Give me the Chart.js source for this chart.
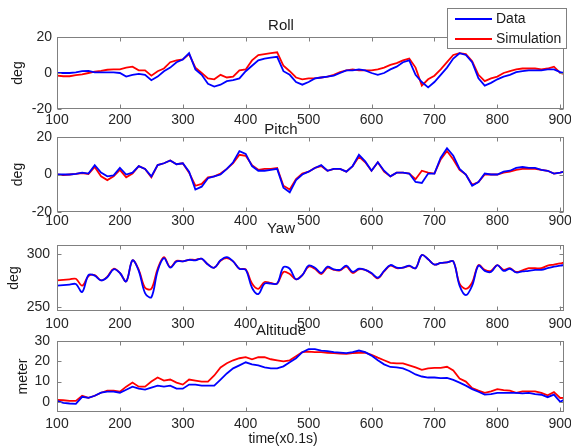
<!DOCTYPE html>
<html>
<head>
<meta charset="utf-8">
<script src="https://cdn.jsdelivr.net/npm/chart.js@4.4.1/dist/chart.umd.min.js"></script>
<style>
  body { margin: 0; background: #fff; }
  #wrap { position: relative; width: 571px; height: 446px; }
  #wrap canvas { position: absolute; left: 0; top: 0; }
</style>
</head>
<body>
<div id="wrap">
  <canvas id="roll" width="571" height="446"></canvas>
  <canvas id="pitch" width="571" height="446"></canvas>
  <canvas id="yaw" width="571" height="446"></canvas>
  <canvas id="altitude" width="571" height="446"></canvas>
</div>
<script>
// time axis, x0.1s
const time = [100, 110, 120, 130, 140, 150, 160, 170, 180, 190,
              200, 210, 220, 230, 240, 250, 260, 270, 280, 290,
              300, 310, 320, 330, 340, 350, 360, 370, 380, 390,
              400, 410, 420, 430, 440, 450, 460, 470, 480, 490,
              500, 510, 520, 530, 540, 550, 560, 570, 580, 590,
              600, 610, 620, 630, 640, 650, 660, 670, 680, 690,
              700, 710, 720, 730, 740, 750, 760, 770, 780, 790,
              800, 810, 820, 830, 840, 850, 860, 870, 880, 890,
              900, 906];

const xTicks = [100, 200, 300, 400, 500, 600, 700, 800, 900];
const angleTicks = [-20, 0, 20];
const yawTicks = [250, 300];
const altTicks = [0, 10, 20, 30];

const rollData = [0, 0, 0, 0.3, 1, 1.2, 0.3, 0.3, 0.3, 0.3,
                  0, -2, -1, -0.5, -1, -4, -2, 1, 3, 6,
                  7.5, 11, 2, -1, -6, -7.5, -6.5, -4.5, -4, -3,
                  1, 4, 7, 8, 8.5, 9, 1, -1, -5, -6.5,
                  -5, -3, -2.5, -2, -1.5, 0, 1.5, 1.5, 2, 1.5,
                  0, -1, 0, 2, 3.5, 6, 7, -1, -5, -8,
                  -5, -1, 3, 8, 11, 10, 6, -3, -7, -5.5,
                  -3.5, -2, -1, 0.5, 1, 1.5, 1.5, 1.5, 2, 2,
                  0.5, 0];
const rollSim = [-1.5, -1.8, -1.8, -1.2, -0.8, 0, 0.8, 1.2, 1.8, 2,
                 2, 3, 3.5, 1.5, 1.5, -1.5, 1, 2.5, 6, 7,
                 7.5, 10.5, 3, 0, -3, -3.5, -1, -2.5, -2, 1.5,
                 2, 7, 10, 10.5, 11, 11.5, 4, 1, -2.5, -3.5,
                 -3, -3, -2.5, -2, -1, 0.5, 1.5, 2, 1.5, 1.5,
                 1.5, 2, 3, 4.5, 5.5, 7, 8, 3, -7, -3.5,
                 -1.5, 2, 6, 10, 11, 10.5, 6.5, -1, -4.5, -3,
                 -2, 0, 1, 2, 2.5, 2.5, 2.5, 2, 2.5, 3.5,
                 0, -0.5];

const pitchData = [0, 0, 0, 0.3, 1, 0.5, 5, 1, -1, -0.5,
                   3.5, 0, 1, 4.5, 3, -1, 5, 6, 7.5, 5.5,
                   6, 1.5, -8, -6.5, -2, -1, 0, 3, 6.5, 12.5,
                   11, 4.5, 2, 2, 2.5, 3, -7, -9.5, -3, 0,
                   1.5, 3.5, 5, 2, 3, 3, 1.5, 4.5, 10.5, 7,
                   2, 6.5, 2, -1, 1, 1, 0.5, -4, -4.5, 0.5,
                   0.5, 9, 14, 10, 3, 0, -6, -4, 0.5, 0,
                   0, 1.5, 2, 3.5, 4, 3.5, 3.5, 2.5, 2, 0.5,
                   1, 1.5];
const pitchSim = [0, -0.3, 0, 0.3, 0.8, 0.3, 4, -1, -3, -1,
                  2.5, -1.5, 0.5, 4.5, 3, -1.5, 5, 6, 7.5, 5.5,
                  6, 1, -6, -5, -1.5, -1, 0.5, 3, 6, 10.5,
                  10, 5, 2.5, 3, 3, 3.5, -6, -8, -2.5, 0.5,
                  1.5, 3.5, 4.5, 2, 3, 3, 1.5, 4.5, 9.5, 6.5,
                  2, 6.5, 1.5, -1, 1, 1, 0.5, -2.5, 2, 1,
                  0.5, 8, 12.5, 8, 2.5, 0, -5.5, -4, 0, 0,
                  0, 1, 1.5, 2.5, 3, 3, 3, 2.5, 2, 0.5,
                  1, 1.5];

const yawData = [270, 270.5, 271, 271.5, 264, 280, 279.5, 275, 278, 285.5,
                 282, 274, 294, 284, 263, 259, 284, 296, 287, 293,
                 293, 294.5, 294, 295.5, 290, 287, 294, 297, 293, 286,
                 285, 268, 262, 272, 272, 272, 287.5, 286, 276, 280,
                 289, 287, 282, 288, 285.5, 285, 289, 283, 286, 285,
                 282, 277.5, 284, 289.5, 287, 287, 289, 286.5, 299, 295,
                 290, 291.5, 292, 293, 270, 261, 270, 289, 284, 283,
                 289.5, 284, 286, 282.5, 283.5, 284, 285, 285, 286.5, 288,
                 289, 289.5];
const yawSim = [275, 275.5, 276, 276.5, 270, 279, 280, 275, 278.5, 286,
                282, 274, 294, 285, 268, 267, 286, 297, 287.5, 293.5,
                293, 294.5, 294.5, 295.5, 290, 287, 293.5, 296, 293, 286,
                285.5, 272, 267, 273.5, 272.5, 272, 283, 281, 276, 280,
                288, 286, 281, 287, 285, 284.5, 288, 282, 285.5, 285,
                281.5, 277, 283.5, 289, 286.5, 287, 288.5, 286.5, 299, 295,
                290, 291.5, 292, 293, 272, 267, 273, 289.5, 285, 284,
                289.5, 285, 286.5, 283, 284.5, 286.5, 286.5, 286.5, 289, 290,
                291, 292];

const altData = [0.5, -0.5, -0.8, -1, 2.5, 2, 3, 4.5, 5, 5,
                 4.5, 6, 7.5, 6.5, 6, 7, 8, 7.5, 8, 6.5,
                 6.5, 8.5, 8.5, 8, 8, 8, 11, 14, 16.5, 18,
                 19.5, 18.5, 18, 17, 16.5, 16.5, 17.5, 19.5, 21.5, 24.5,
                 26, 26, 25.3, 25, 24.5, 24.3, 24, 24.5, 25.3, 24.5,
                 22.8, 20.5, 18.5, 17.2, 17, 16.5, 15.2, 13.5, 12.5, 12,
                 12, 11.7, 11.8, 10.8, 9.5, 8, 6.3, 5, 3.6, 3.8,
                 4.4, 4.4, 4.4, 4.4, 4.2, 4.4, 3.8, 3.5, 2.3, 3.6,
                 0, 1];
const altSim = [1, 0.8, 0.5, 0.5, 3, 2, 3, 4.5, 5.5, 5.5,
                5, 7.5, 9.5, 7.5, 7.5, 10, 12, 10.5, 11, 9.5,
                8.5, 11, 10.5, 10, 10, 13, 17, 19, 20.5, 21.5,
                22, 21, 22, 22, 21, 20.5, 20, 20.5, 22.5, 24.5,
                24.8, 24.5, 24.5, 24.2, 24, 23.8, 23.7, 24, 24.2, 24.2,
                23.2, 21.8, 20.5, 19.2, 19, 19, 18, 17, 15.8, 16.5,
                16.8, 16.8, 17.3, 15.5, 11.5, 10, 6.8, 5.5, 4.4, 5.2,
                6.3, 5.8, 5.5, 4.4, 5.2, 5.2, 5.2, 4.4, 3.2, 4.8,
                1.9, 2];

const seriesNames = ['Data', 'Simulation'];
const seriesColors = ['rgb(0, 0, 255)', 'rgb(255, 0, 0)'];

Chart.defaults.font.family = '"Liberation Sans", Arial, sans-serif';
Chart.defaults.font.size = 14;
Chart.defaults.color = '#262626';

// draws the matlab style box, inward ticks, titles, labels and legend
const matlabFrame = {
    id: 'matlabFrame',
    afterDatasetsDraw(chart, args, opts) {
        const ctx = chart.ctx;
        const a = chart.chartArea;
        const xs = chart.scales.x, ys = chart.scales.y;
        ctx.save();
        ctx.strokeStyle = '#808080';
        ctx.lineWidth = 1;
        const L = Math.round(a.left) + 0.5, R = Math.round(a.right) - 0.5;
        const T = Math.round(a.top) + 0.5, B = Math.round(a.bottom) - 0.5;
        ctx.strokeRect(L, T, R - L, B - T);
        ctx.beginPath();
        xs.ticks.forEach(t => {
            const px = Math.round(xs.getPixelForValue(t.value)) + 0.5;
            ctx.moveTo(px, B); ctx.lineTo(px, B - 4);
            ctx.moveTo(px, T); ctx.lineTo(px, T + 4);
        });
        ys.ticks.forEach(t => {
            const py = Math.round(ys.getPixelForValue(t.value)) + 0.5;
            ctx.moveTo(L, py); ctx.lineTo(L + 4, py);
            ctx.moveTo(R, py); ctx.lineTo(R - 4, py);
        });
        ctx.stroke();

        ctx.fillStyle = '#1a1a1a';
        ctx.textAlign = 'center';
        ctx.textBaseline = 'middle';
        ctx.font = '15px "Liberation Sans", Arial, sans-serif';
        ctx.fillText(opts.title, 281, opts.titleY);

        ctx.font = '14px "Liberation Sans", Arial, sans-serif';
        ctx.save();
        ctx.translate(opts.unitX, (a.top + a.bottom) / 2);
        ctx.rotate(-Math.PI / 2);
        ctx.fillText(opts.unit, 0, 0);
        ctx.restore();

        if (opts.xlabel) {
            ctx.fillText(opts.xlabel, 283, 439);
        }

        if (opts.legend) {
            ctx.fillStyle = '#fff';
            ctx.fillRect(447, 8, 120, 41);
            ctx.strokeStyle = '#808080';
            ctx.strokeRect(447.5, 8.5, 119, 40);
            chart.data.datasets.forEach((ds, i) => {
                const y = 19 + i * 20;
                ctx.strokeStyle = ds.borderColor;
                ctx.lineWidth = 2;
                ctx.beginPath();
                ctx.moveTo(455, y); ctx.lineTo(492, y);
                ctx.stroke();
                ctx.fillStyle = '#1a1a1a';
                ctx.textAlign = 'left';
                ctx.fillText(ds.label, 496, y);
            });
        }
        ctx.restore();
    }
};

function makePanel(p) {
    const xAxisH = 24;
    new Chart(document.getElementById(p.id), {
        type: 'line',
        data: {
            datasets: [p.data, p.sim].map((vals, i) => ({
                label: seriesNames[i],
                data: time.map((t, k) => ({ x: t, y: vals[k] })),
                borderColor: seriesColors[i],
                borderWidth: 1.8,
                pointRadius: 0,
                tension: p.tension || 0,
                fill: false
            }))
        },
        options: {
            responsive: false,
            animation: false,
            events: [],
            layout: {
                padding: { left: 0, right: 7, top: p.top, bottom: 446 - p.bottom - xAxisH }
            },
            plugins: {
                legend: { display: false },
                tooltip: { enabled: false },
                matlabFrame: p.frame
            },
            scales: {
                x: {
                    type: 'linear',
                    min: 100,
                    max: 906,
                    grid: { display: false, drawTicks: false },
                    border: { display: false },
                    ticks: { padding: p.xPad, maxRotation: 0, autoSkip: false },
                    afterBuildTicks: s => { s.ticks = xTicks.map(v => ({ value: v })); },
                    afterFit: s => { s.height = xAxisH; s.paddingLeft = 0; s.paddingRight = 0; }
                },
                y: {
                    min: p.yMin,
                    max: p.yMax,
                    grid: { display: false, drawTicks: false },
                    border: { display: false },
                    ticks: { padding: p.yPad },
                    afterBuildTicks: s => { s.ticks = p.yTicks.map(v => ({ value: v })); },
                    afterFit: s => { s.width = 57; }
                }
            }
        },
        plugins: [matlabFrame]
    });
}

makePanel({ id: 'roll', data: rollData, sim: rollSim, yMin: -20, yMax: 20, yTicks: angleTicks,
    top: 37, bottom: 109, xPad: 3, yPad: 5,
    frame: { title: 'Roll', titleY: 26, unit: 'deg', unitX: 18, legend: true } });
makePanel({ id: 'pitch', data: pitchData, sim: pitchSim, yMin: -20, yMax: 20, yTicks: angleTicks,
    top: 137, bottom: 212, xPad: 1, yPad: 5,
    frame: { title: 'Pitch', titleY: 130, unit: 'deg', unitX: 18 } });
// yaw is a smooth signal in the reference, so round the corners a bit
makePanel({ id: 'yaw', data: yawData, sim: yawSim, yMin: 246, yMax: 308.5, yTicks: yawTicks,
    top: 245, bottom: 311, xPad: 5, yPad: 7, tension: 0.35,
    frame: { title: 'Yaw', titleY: 229, unit: 'deg', unitX: 14 } });
makePanel({ id: 'altitude', data: altData, sim: altSim, yMin: -5, yMax: 30, yTicks: altTicks,
    top: 341, bottom: 412, xPad: 4, yPad: 7,
    frame: { title: 'Altitude', titleY: 331, unit: 'meter', unitX: 23, xlabel: 'time(x0.1s)' } });
</script>
</body>
</html>
